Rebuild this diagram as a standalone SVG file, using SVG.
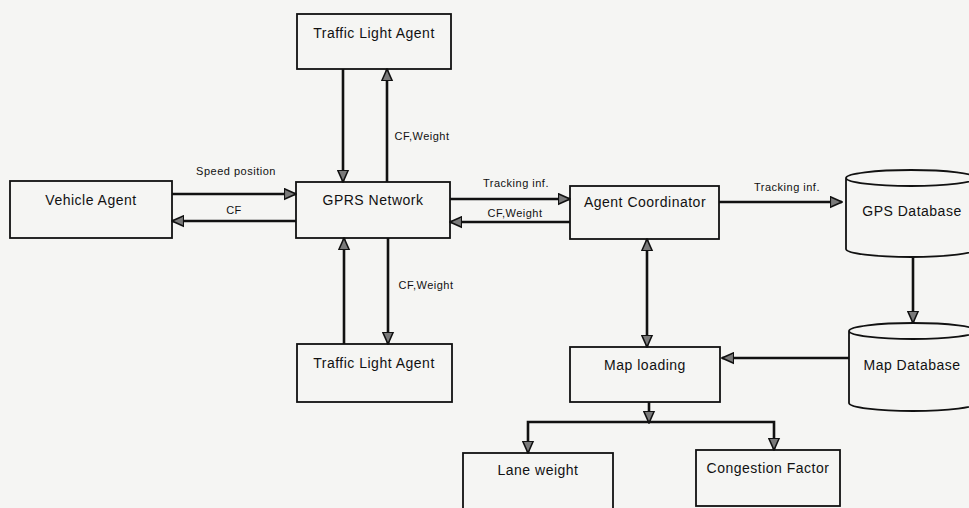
<svg xmlns="http://www.w3.org/2000/svg" width="969" height="508" viewBox="0 0 969 508">
<defs>
<marker id="ah" viewBox="0 0 10 10" refX="9" refY="5" markerWidth="5" markerHeight="5" orient="auto-start-reverse" markerUnits="strokeWidth">
<path d="M0,1 L9,5 L0,9 Z" fill="#7a7a7a" stroke="#111" stroke-width="1.2"/>
</marker>
<style>
.box{fill:none;stroke:#111;stroke-width:1.8}
.t{font-family:"Liberation Sans",Arial,sans-serif;font-size:14px;letter-spacing:0.5px;fill:#111;text-anchor:middle}
.l{font-family:"Liberation Sans",Arial,sans-serif;font-size:11px;letter-spacing:0.5px;fill:#111;text-anchor:middle}
.c{fill:none;stroke:#111;stroke-width:2.6}
.a{marker-end:url(#ah)}
.b{marker-start:url(#ah);marker-end:url(#ah)}
</style>
</defs>
<rect width="969" height="508" fill="#f5f5f3"/>
<g id="tla-top"><rect class="box" x="297" y="14" width="154" height="55"/><text class="t" x="374" y="38">Traffic Light Agent</text></g>
<g id="vehicle"><rect class="box" x="10" y="181" width="162" height="57"/><text class="t" x="91" y="205">Vehicle Agent</text></g>
<g id="gprs"><rect class="box" x="296" y="182" width="154" height="56"/><text class="t" x="373" y="205">GPRS Network</text></g>
<g id="tla-bottom"><rect class="box" x="297" y="344" width="155" height="58"/><text class="t" x="374" y="368">Traffic Light Agent</text></g>
<g id="coord"><rect class="box" x="570" y="186" width="149" height="53"/><text class="t" x="645" y="207">Agent Coordinator</text></g>
<g id="maploading"><rect class="box" x="570" y="347" width="150" height="55"/><text class="t" x="645" y="370">Map loading</text></g>
<g id="lane"><rect class="box" x="463" y="453" width="150" height="60"/><text class="t" x="538" y="475">Lane weight</text></g>
<g id="congestion"><rect class="box" x="696" y="450" width="144" height="56"/><text class="t" x="768" y="473">Congestion Factor</text></g>
<g id="gpsdb"><path class="box" d="M846,178 A65,8 0 0 1 976,178 L976,249 A65,8 0 0 1 846,249 Z M846,178 A65,8 0 0 0 976,178"/><text class="t" x="912" y="216">GPS Database</text></g>
<g id="mapdb"><path class="box" d="M849,331 A64,8 0 0 1 977,331 L977,403 A64,8 0 0 1 849,403 Z M849,331 A64,8 0 0 0 977,331"/><text class="t" x="912" y="370">Map Database</text></g>
<g id="connectors">
<line class="c a" x1="172" y1="194" x2="296" y2="194"/>
<line class="c a" x1="296" y1="221" x2="172" y2="221"/>
<line class="c a" x1="343" y1="69" x2="343" y2="182"/>
<line class="c a" x1="387" y1="182" x2="387" y2="69"/>
<line class="c a" x1="344" y1="344" x2="344" y2="238"/>
<line class="c a" x1="388" y1="238" x2="388" y2="344"/>
<line class="c a" x1="450" y1="199" x2="570" y2="199"/>
<line class="c a" x1="570" y1="222" x2="450" y2="222"/>
<line class="c a" x1="719" y1="202" x2="842" y2="202"/>
<line class="c a" x1="913" y1="257" x2="913" y2="323"/>
<line class="c a" x1="849" y1="358" x2="722" y2="358"/>
<line class="c b" x1="647" y1="239" x2="647" y2="347"/>
<line class="c a" x1="649" y1="402" x2="649" y2="423"/>
<polyline class="c a" points="649,422 528,422 528,453"/>
<polyline class="c a" points="649,422 774,422 774,450"/>
<text class="l" x="236" y="175">Speed position</text>
<text class="l" x="234" y="214">CF</text>
<text class="l" x="422" y="140">CF,Weight</text>
<text class="l" x="426" y="289">CF,Weight</text>
<text class="l" x="516" y="187">Tracking inf.</text>
<text class="l" x="515" y="217">CF,Weight</text>
<text class="l" x="787" y="191">Tracking inf.</text>
</g>
</svg>
